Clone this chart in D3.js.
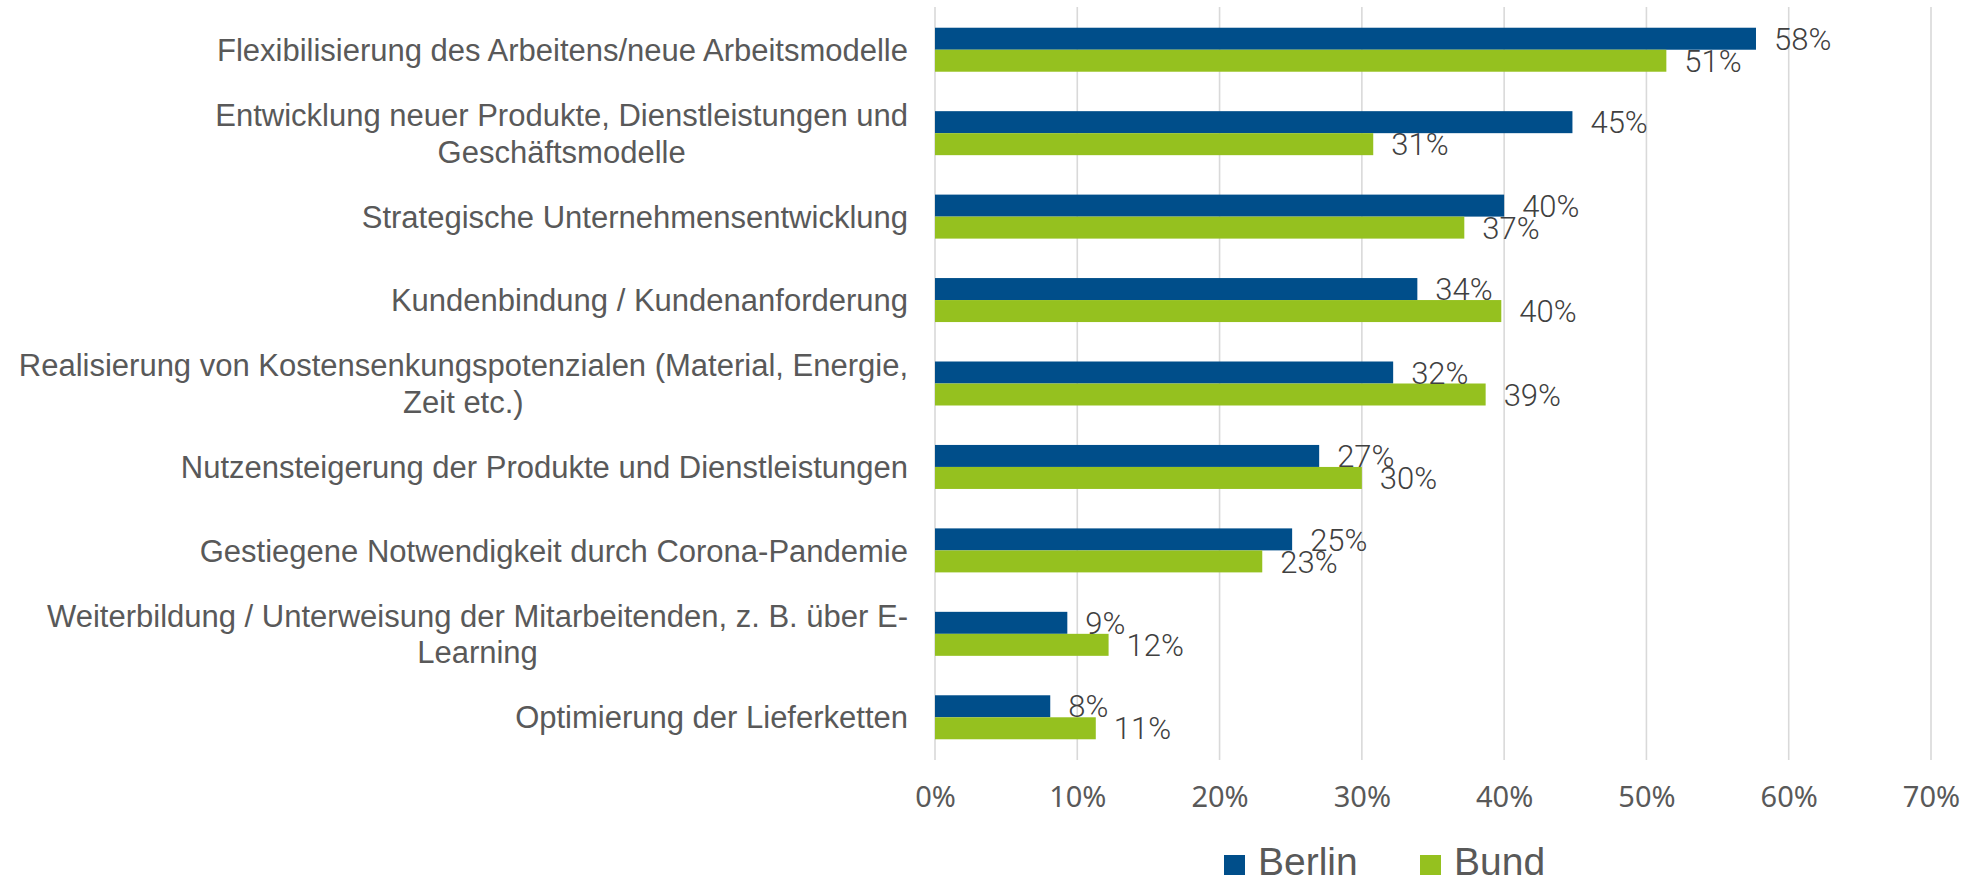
<!DOCTYPE html>
<html>
<head>
<meta charset="utf-8">
<script src="https://cdn.jsdelivr.net/npm/d3@7"></script>
<style>
  html, body { margin: 0; padding: 0; background: #fff; }
  svg { display: block; }
</style>
</head>
<body>
<svg id="chart" width="1972" height="884"></svg>
<script>
// ---- data ----
const categories = [
  "Flexibilisierung des Arbeitens/neue Arbeitsmodelle",
  "Entwicklung neuer Produkte, Dienstleistungen und\nGeschäftsmodelle",
  "Strategische Unternehmensentwicklung",
  "Kundenbindung / Kundenanforderung",
  "Realisierung von Kostensenkungspotenzialen (Material, Energie,\nZeit etc.)",
  "Nutzensteigerung der Produkte und Dienstleistungen",
  "Gestiegene Notwendigkeit durch Corona-Pandemie",
  "Weiterbildung / Unterweisung der Mitarbeitenden, z. B. über E-\nLearning",
  "Optimierung der Lieferketten"
];
const seriesNames = ["Berlin", "Bund"];
const berlinValues = [57.7, 44.8, 40.0, 33.9, 32.2, 27.0, 25.1, 9.3, 8.1];
const bundValues   = [51.4, 30.8, 37.2, 39.8, 38.7, 30.0, 23.0, 12.2, 11.3];
const tickValues = [0, 10, 20, 30, 40, 50, 60, 70];

// ---- styles ----
const colors = { Berlin: "#004e8a", Bund: "#95c11f" };
const textGrey = "#595959";

const svg = d3.select("#chart");

const x = d3.scaleLinear().domain([0, 70]).range([935, 1931]);
const y = d3.scaleBand().domain(categories).range([8, 759]).padding(0);
const barH = 22;
const inner = d3.scaleBand().domain(seriesNames)
  .range([y.bandwidth() / 2 - barH, y.bandwidth() / 2 + barH]).padding(0);

// gridlines
svg.append("g").selectAll("line").data(tickValues).join("line")
  .attr("x1", d => x(d)).attr("x2", d => x(d))
  .attr("y1", y.range()[0] - 1).attr("y2", y.range()[1] + 1)
  .attr("stroke", "#d9d9d9").attr("stroke-width", 1.6);

// x-axis tick labels via d3 axis
const xAxis = d3.axisBottom(x).tickValues(tickValues).tickFormat(d => d + "%").tickSize(0);
const axG = svg.append("g").attr("transform", "translate(0,786)").call(xAxis);
axG.select(".domain").remove();
axG.selectAll("text")
  .attr("font-family", "'Noto Sans', 'Open Sans', sans-serif")
  .attr("font-size", 29).attr("fill", textGrey)
  .attr("dy", "0.71em").attr("y", 0);

// bars
const rows = categories.map((c, i) => ({ cat: c, vals: [
  { s: "Berlin", v: berlinValues[i] }, { s: "Bund", v: bundValues[i] } ] }));

const rowG = svg.append("g").selectAll("g").data(rows).join("g")
  .attr("transform", d => `translate(0,${y(d.cat)})`);

rowG.selectAll("rect").data(d => d.vals).join("rect")
  .attr("x", x(0))
  .attr("y", d => inner(d.s))
  .attr("width", d => x(d.v) - x(0))
  .attr("height", inner.bandwidth())
  .attr("fill", d => colors[d.s]);

rowG.selectAll("text.val").data(d => d.vals).join("text")
  .attr("class", "val")
  .attr("x", d => x(d.v) + 18)
  .attr("y", d => inner(d.s) + inner.bandwidth() / 2)
  .attr("dy", "0.36em")
  .attr("font-family", "Roboto, 'Open Sans', sans-serif")
  .attr("font-weight", 300)
  .attr("font-size", 31)
  .attr("fill", "#404040")
  .text(d => Math.round(d.v) + "%");

// category labels
const labelRight = 908;
const lineH = 36.6;
const catG = svg.append("g");
categories.forEach(c => {
  const lines = c.split("\n");
  const cy = y(c) + y.bandwidth() / 2;
  const t = catG.append("text")
    .attr("font-family", "'Liberation Sans', Arial, sans-serif")
    .attr("font-size", 31)
    .attr("fill", textGrey)
    .attr("text-anchor", "middle");
  const spans = lines.map((ln, k) => t.append("tspan")
    .attr("y", cy + (k - (lines.length - 1) / 2) * lineH)
    .attr("dy", "0.36em")
    .text(ln));
  const maxW = d3.max(spans, s => s.node().getComputedTextLength());
  spans.forEach(s => s.attr("x", labelRight - maxW / 2));
});

// legend
const legend = svg.append("g");
const legendX = { Berlin: 1224, Bund: 1420 };
seriesNames.forEach(s => {
  legend.append("rect").attr("x", legendX[s]).attr("y", 855)
    .attr("width", 21).attr("height", 20).attr("fill", colors[s]);
  legend.append("text").attr("x", legendX[s] + 34).attr("y", 875)
    .attr("font-family", "'Liberation Sans', Arial, sans-serif")
    .attr("font-size", 39).attr("fill", textGrey).text(s);
});
</script>
</body>
</html>
